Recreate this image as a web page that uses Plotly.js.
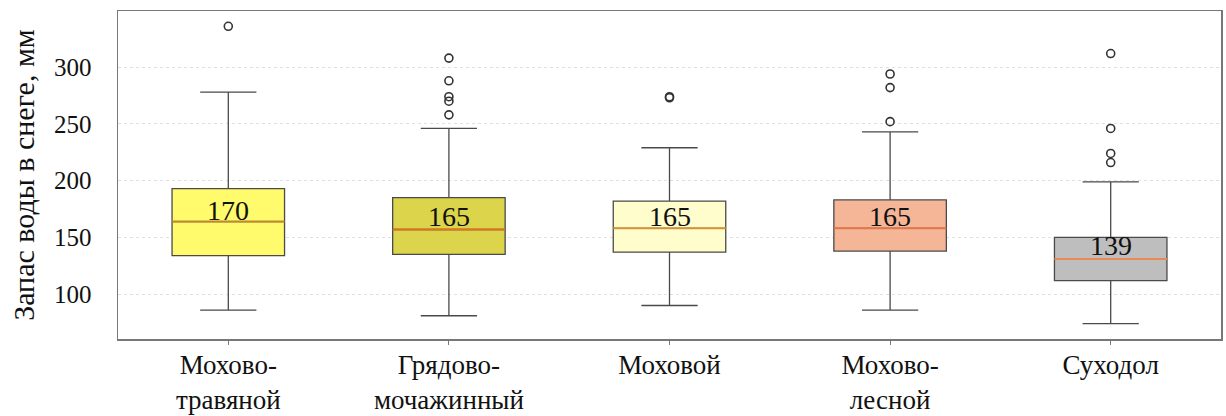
<!DOCTYPE html>
<html>
<head>
<meta charset="utf-8">
<script src="https://cdn.plot.ly/plotly-3.0.1.min.js"></script>
<style>html,body{margin:0;padding:0;background:#fff;}#chart{width:1226px;height:416px;}</style>
</head>
<body>
<div id="chart"></div>
<script>
// ---- data ----
const categories = ["Мохово-<br>травяной", "Грядово-<br>мочажинный", "Моховой", "Мохово-<br>лесной", "Суходол"];
const lowerWhisker = [86, 81, 90, 86, 74];
const q1Values     = [134, 135, 137, 138, 112];
const medianValues = [164, 157, 158, 158, 131];
const q3Values     = [193, 185, 182, 183, 150];
const upperWhisker = [278, 246, 229, 243, 199];
const outliers = [
  [336],
  [308, 288, 274, 270, 258],
  [274, 273],
  [294, 282, 252],
  [312, 246, 224, 216]
];
const labelValues = [170, 165, 165, 165, 139];
const fillColors   = ["#FFFB6C", "#DCD54B", "#FFFDCB", "#F5B697", "#BEBEBE"];
const medianColors = ["#C08A2C", "#E0741E", "#D59238", "#E0794A", "#E88A55"];

const boxWidth = 0.51;
const serif = "Liberation Serif, Times New Roman, serif";

const traces = categories.map((c, i) => ({
  type: "box",
  x: [c],
  q1: [q1Values[i]],
  median: [medianValues[i]],
  q3: [q3Values[i]],
  lowerfence: [lowerWhisker[i]],
  upperfence: [upperWhisker[i]],
  boxpoints: false,
  width: boxWidth,
  whiskerwidth: 0.5,
  fillcolor: fillColors[i],
  line: {color: "#4a4a4a", width: 1.3},
  showlegend: false,
  hoverinfo: "skip"
}));

const ox = [], oy = [];
outliers.forEach((arr, i) => arr.forEach(v => { ox.push(categories[i]); oy.push(v); }));
traces.push({
  type: "scatter", mode: "markers", x: ox, y: oy,
  marker: {symbol: "circle-open", size: 8, color: "#333", line: {width: 1.6, color: "#333"}},
  showlegend: false, hoverinfo: "skip"
});

const shapes = medianValues.map((m, i) => ({
  type: "line", xref: "x", yref: "y",
  x0: i - boxWidth / 2, x1: i + boxWidth / 2, y0: m, y1: m,
  line: {color: medianColors[i], width: 2}
}));

const annotations = labelValues.map((v, i) => ({
  x: categories[i], y: v, xref: "x", yref: "y",
  text: String(v), showarrow: false, yanchor: "middle", yshift: 4,
  font: {family: serif, size: 28, color: "#111"}
}));

const layout = {
  width: 1226, height: 416,
  margin: {l: 118, r: 5, t: 11, b: 77},
  paper_bgcolor: "#fff", plot_bgcolor: "#fff",
  font: {family: serif, color: "#111"},
  xaxis: {
    type: "category", categoryorder: "array", categoryarray: categories,
    range: [-0.5, 4.5],
    showline: true, mirror: true, linecolor: "#777", linewidth: 1.5,
    ticks: "outside", ticklen: 4, tickcolor: "#777", tickwidth: 1,
    ticklabelstandoff: -3,
    showgrid: false, zeroline: false,
    tickfont: {family: serif, size: 27, color: "#111"}
  },
  yaxis: {
    range: [60.5, 349.5],
    tickvals: [100, 150, 200, 250, 300],
    showline: true, mirror: true, linecolor: "#777", linewidth: 1.5,
    ticks: "", ticklabelstandoff: 20,
    showgrid: true, gridcolor: "#e0e0e0", gridwidth: 1, griddash: "dot",
    zeroline: false,
    tickfont: {family: serif, size: 25, color: "#111"},
    title: {text: "Запас воды в снеге, мм", font: {family: serif, size: 30, color: "#111"}, standoff: 10}
  },
  shapes: shapes,
  annotations: annotations
};

Plotly.newPlot("chart", traces, layout, {staticPlot: true, displayModeBar: false});
</script>
</body>
</html>
